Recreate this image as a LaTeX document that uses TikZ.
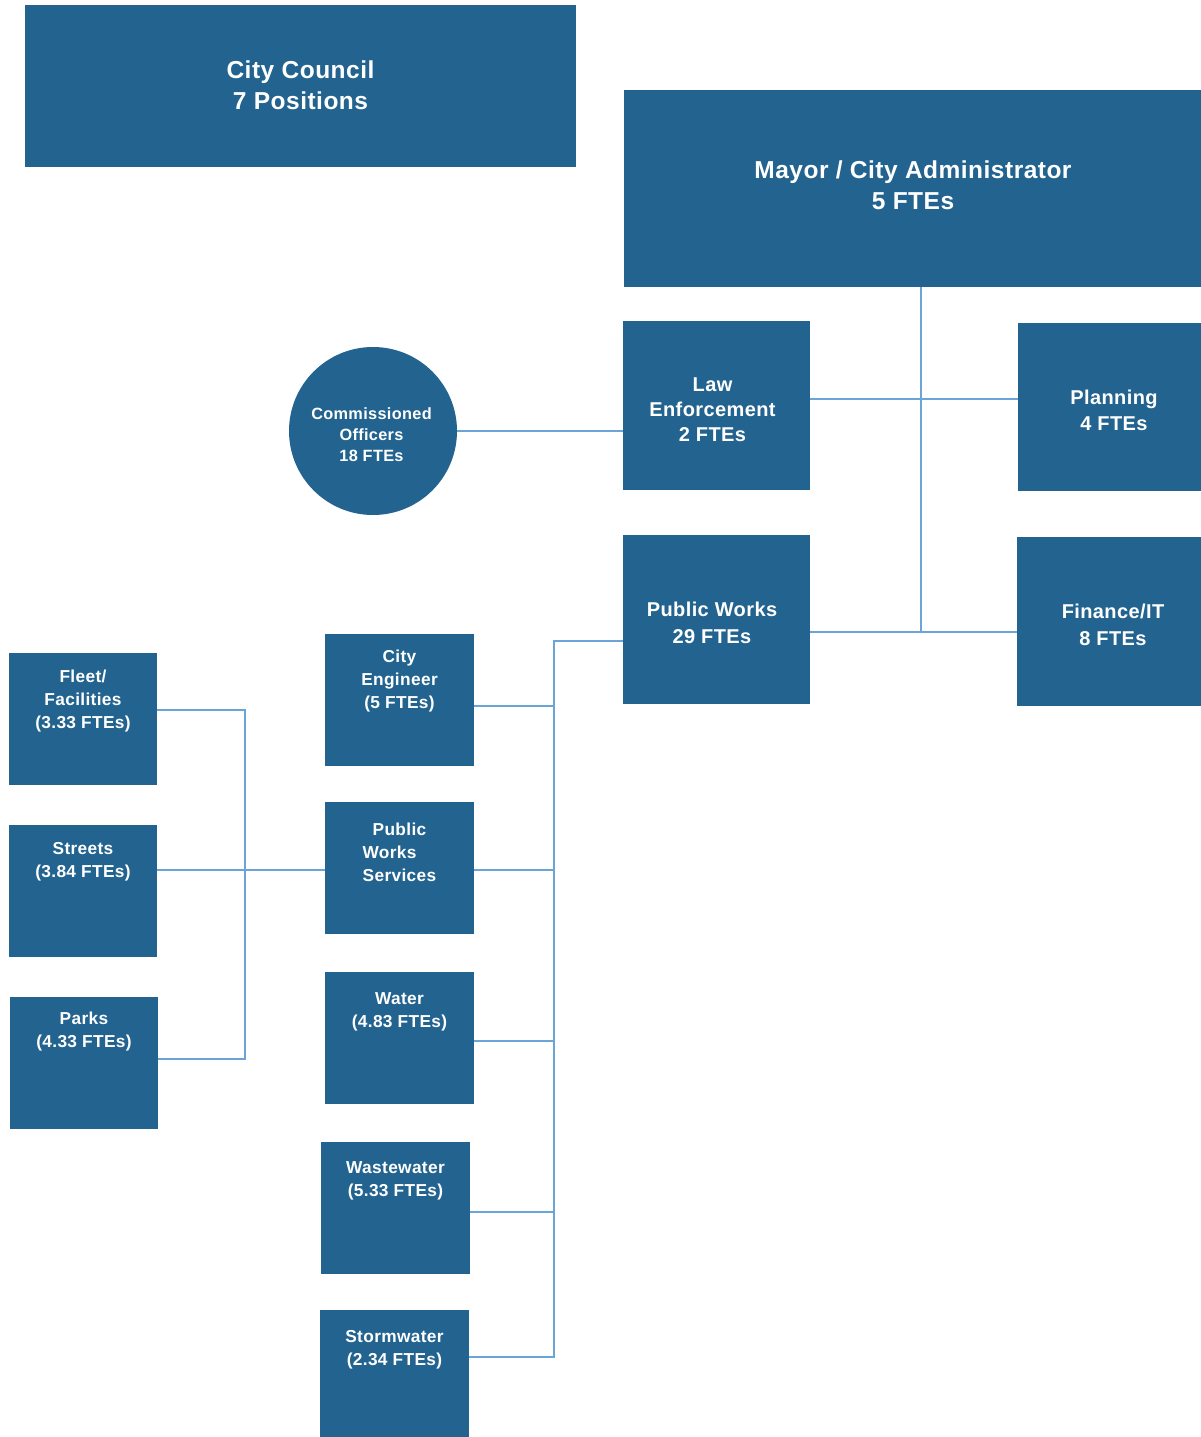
\documentclass[tikz,border=0pt]{standalone}
\usepackage{fontspec}
\setmainfont{Liberation Sans}[LetterSpace=2]
\definecolor{boxblue}{RGB}{34,99,143}
\definecolor{linkblue}{RGB}{107,165,215}

\begin{document}
\begin{tikzpicture}[x=1pt,y=-1pt,
  unit/.style={rectangle, fill=boxblue, inner sep=0pt},
  midbox/.style={unit, minimum width=187pt, minimum height=169pt},
  smallbox/.style={unit, minimum width=149pt, minimum height=132pt},
  caption/.style={inner sep=0pt, text=white, align=center},
  bigtext/.style={caption, font=\bfseries\fontsize{24.5}{31}\selectfont},
  midtext/.style={caption, font=\bfseries\fontsize{20}{26.5}\selectfont},
  smalltext/.style={caption, anchor=north, font=\bfseries\fontsize{17.3}{23}\selectfont},
  roundunit/.style={circle, fill=boxblue, inner sep=0pt, minimum size=168pt},
  roundtext/.style={caption, font=\bfseries\fontsize{16.3}{21}\selectfont},
  link/.style={draw=linkblue, line width=1.5pt}]

\useasboundingbox (0,0) rectangle (1201,1437);

% top level
\node[unit, minimum width=551pt, minimum height=162pt] (council) at (300.5,86) {};
\node[bigtext] (council-t) at (300.5,85.5) {City Council\\7 Positions};
\node[unit, minimum width=577pt, minimum height=197pt] (mayor) at (912.5,188.5) {};
\node[bigtext] (mayor-t) at (913,185.5) {Mayor / City Administrator\\5 FTEs};

% departments
\node[midbox] (law) at (716.5,405.5) {};
\node[midtext, font=\bfseries\fontsize{20}{25}\selectfont] (law-t) at (712.5,409.5)
  {Law\\Enforcement\\2 FTEs};
\node[midbox, minimum width=183pt, minimum height=168pt] (plan) at (1109.5,407) {};
\node[midtext] (plan-t) at (1114,410.5) {Planning\\4 FTEs};
\node[midbox] (pw) at (716.5,619.5) {};
\node[midtext] (pw-t) at (712,623) {Public Works\\29 FTEs};
\node[midbox, minimum width=184pt] (fin) at (1109,621.5) {};
\node[midtext] (fin-t) at (1113,625) {Finance/IT\\8 FTEs};

\node[roundunit] (off) at (373,431) {};
\node[roundtext] (off-t) at (371.5,434.5) {Commissioned\\Officers\\18 FTEs};

% public works divisions
\node[smallbox] (eng) at (399.5,699.5) {};
\node[smalltext] (eng-t) at ([yshift=-16.5pt]eng.north) {City\\Engineer\\(5 FTEs)};
\node[smallbox] (pws) at (399.5,868) {};
\node[smalltext] (pws-t) at ([yshift=-20.5pt]pws.north)
  {Public\\Works\rule{20pt}{0pt}\\Services};
\node[smallbox] (water) at (399.5,1037.5) {};
\node[smalltext] (water-t) at ([yshift=-21.5pt]water.north) {Water\\(4.83 FTEs)};
\node[smallbox] (waste) at (395.5,1207.5) {};
\node[smalltext] (waste-t) at ([yshift=-20.5pt]waste.north) {Wastewater\\(5.33 FTEs)};
\node[smallbox] (storm) at (394.5,1376) {};
\node[smalltext] (storm-t) at ([yshift=-20.5pt]storm.north) {Stormwater\\(2.34 FTEs)};

% public works services sections
\node[smallbox, minimum width=148pt] (fleet) at (83,719) {};
\node[smalltext] (fleet-t) at ([yshift=-16.5pt]fleet.north) {Fleet/\\Facilities\\(3.33 FTEs)};
\node[smallbox, minimum width=148pt] (streets) at (83,891) {};
\node[smalltext] (streets-t) at ([yshift=-17.5pt]streets.north) {Streets\\(3.84 FTEs)};
\node[smallbox, minimum width=148pt] (parks) at (84,1062.5) {};
\node[smalltext] (parks-t) at ([yshift=-15.5pt]parks.north) {Parks\\(4.33 FTEs)};

% junction points
\coordinate (j1) at (921,399);
\coordinate (j2) at (921,632);
\coordinate (bus) at (554,641);
\coordinate (b-eng) at (554,706);
\coordinate (b-pws) at (554,870);
\coordinate (b-water) at (554,1041);
\coordinate (b-waste) at (554,1212);
\coordinate (b-storm) at (554,1357);
\coordinate (l-fleet) at (245,710);
\coordinate (l-parks) at (245,1059);

% connectors
\draw[link] (mayor.south -| j1) -- (j2);
\draw[link] (law.east |- j1) -- (plan.west |- j1);
\draw[link] (pw.east |- j2) -- (fin.west |- j2);
\draw[link] (off.east) -- (law.west |- off.east);

\draw[link] (pw.west |- bus) -- (bus) -- (b-storm) -- (storm.east |- b-storm);
\draw[link] (eng.east |- b-eng) -- (b-eng);
\draw[link] (pws.east |- b-pws) -- (b-pws);
\draw[link] (water.east |- b-water) -- (b-water);
\draw[link] (waste.east |- b-waste) -- (b-waste);

\draw[link] (streets.east |- b-pws) -- (pws.west |- b-pws);
\draw[link] (fleet.east |- l-fleet) -- (l-fleet) -- (l-parks) -- (parks.east |- l-parks);
\end{tikzpicture}
\end{document}
